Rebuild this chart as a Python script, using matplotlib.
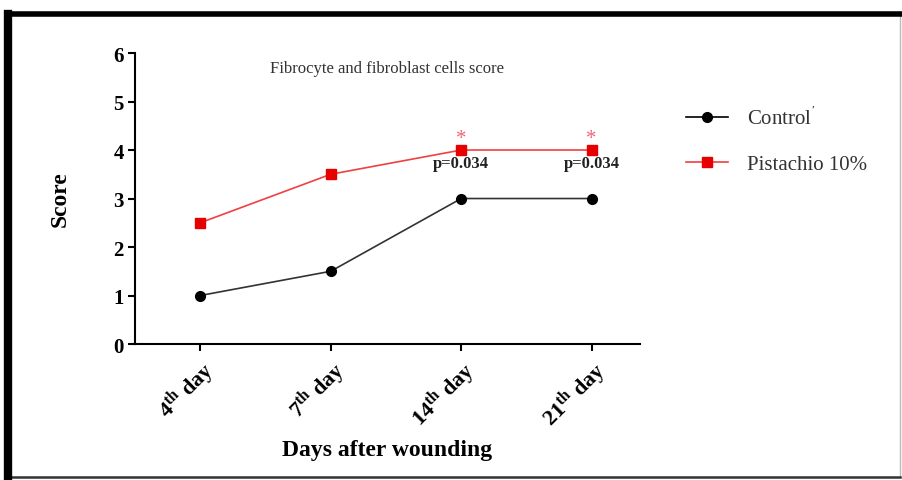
import numpy as np
from matplotlib import pyplot as plt
from matplotlib.lines import Line2D

days = [r'4$^{\mathrm{th}}$ day', r'7$^{\mathrm{th}}$ day',
        r'14$^{\mathrm{th}}$ day', r'21$^{\mathrm{th}}$ day']
control = [1, 1.5, 3, 3]
pistachio = [2.5, 3.5, 4, 4]
p_labels = ['', '', 'p=0.034', 'p=0.034']

plt.rcParams['font.family'] = 'Liberation Serif'
plt.rcParams['mathtext.fontset'] = 'custom'
plt.rcParams['mathtext.rm'] = 'Liberation Serif:bold'
plt.rcParams['mathtext.it'] = 'Liberation Serif:italic:bold'
plt.rcParams['mathtext.bf'] = 'Liberation Serif:bold'

fig = plt.figure(figsize=(9.02, 4.81), dpi=100)
ax = fig.add_axes([0.1497, 0.2827, 0.5598, 0.605])

x = np.arange(len(days))
ax.plot(x, control, '-', color='#333333', lw=1.2, marker='o', ms=7,
        mfc='black', mec='black')
ax.plot(x, pistachio, '-', color='#f04040', lw=1.2, marker='s', ms=7,
        mfc='#e60000', mec='#e60000')

for i, lab in enumerate(p_labels):
    if lab:
        ax.text(x[i], pistachio[i] - 0.1, lab, ha='center', va='top',
                fontsize=12, fontweight='bold', color='#222222')
        ax.text(x[i], pistachio[i] + 0.05, '*', ha='center', va='bottom',
                fontsize=15, color='#ee6677')

ax.set_xlim(-0.5, 3.37)
ax.set_ylim(0, 6)
ax.set_yticks(range(0, 7))
ax.set_xticks(x)
ax.set_xticklabels(days, rotation=45, ha='right', rotation_mode='anchor',
                   fontsize=16, fontweight='bold')
for t in ax.get_yticklabels():
    t.set_fontsize(15)
    t.set_fontweight('bold')
ax.tick_params(direction='out', length=5, width=1.5, pad=3)
for s in ['top', 'right']:
    ax.spines[s].set_visible(False)
for s in ['left', 'bottom']:
    ax.spines[s].set_linewidth(1.5)

ax.set_ylabel('Score', fontsize=17, fontweight='bold', labelpad=31)
ax.set_xlabel('Days after wounding', fontsize=17, fontweight='bold', labelpad=5)
ax.text(0.5, 0.95, 'Fibrocyte and fibroblast cells score', transform=ax.transAxes,
        ha='center', va='center', fontsize=12, color='#333333')

handles = [Line2D([], [], color='black', lw=1.2, marker='o', ms=7),
           Line2D([], [], color='#f04040', lw=1.2, marker='s', ms=7,
                  mfc='#e60000', mec='#e60000')]
fig.legend(handles, ['Control$^{\'}$', 'Pistachio 10%'], loc='upper left',
           bbox_to_anchor=(0.74, 0.815), frameon=False, fontsize=15,
           labelspacing=1.2, handlelength=2.0, handletextpad=0.9,
           labelcolor='#333333')

# outer frame
fig.add_artist(Line2D([0.998, 0.998], [0.006, 0.969], transform=fig.transFigure,
                      color='#bbbbbb', lw=1))
fig.add_artist(Line2D([0.008, 0.998], [0.006, 0.006], transform=fig.transFigure,
                      color='#333333', lw=1.8))
fig.add_artist(Line2D([0.008, 0.998], [0.969, 0.969], transform=fig.transFigure,
                      color='black', lw=4))
fig.add_artist(Line2D([0.009, 0.009], [0.004, 0.969], transform=fig.transFigure,
                      color='black', lw=6))

fig.savefig('out.png', dpi=100)
